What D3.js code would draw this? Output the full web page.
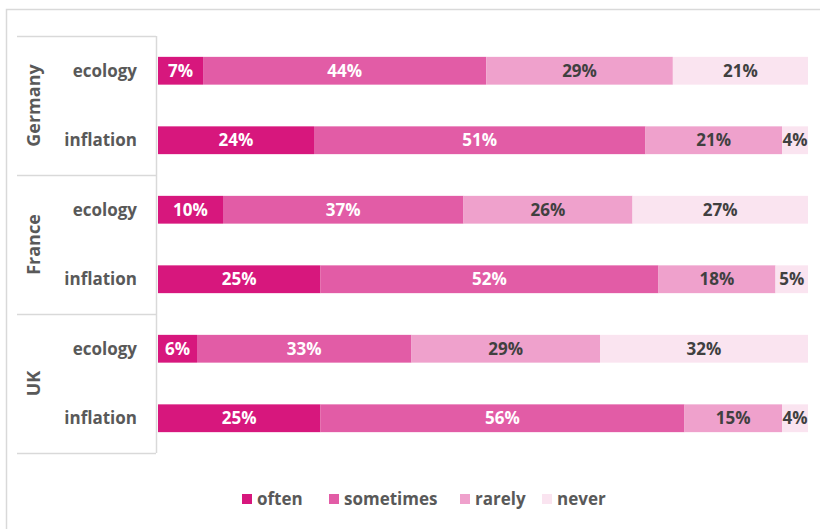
<!DOCTYPE html>
<html>
<head>
<meta charset="utf-8">
<script src="https://cdn.jsdelivr.net/npm/d3@7"></script>
<style>
  body { margin: 0; background: #fff; }
  svg { display: block; font-family: "Open Sans", "Liberation Sans", sans-serif; }
</style>
</head>
<body>
<div id="chart"></div>
<script>
// --- data ---
const countries = ["Germany", "France", "UK"];
const topics = ["ecology", "inflation"];
const answers = ["often", "sometimes", "rarely", "never"];
const answerColors = ["#D7177D", "#E25CA6", "#EFA1CC", "#FAE4F0"];
const labelColors = ["#ffffff", "#ffffff", "#404040", "#404040"];

// percentages per row (country / topic), in answer order
const germanyEcology = [7, 44, 29, 21];
const germanyInflation = [24, 51, 21, 4];
const franceEcology = [10, 37, 26, 27];
const franceInflation = [25, 52, 18, 5];
const ukEcology = [6, 33, 29, 32];
const ukInflation = [25, 56, 15, 4];

const rows = [
  { country: "Germany", topic: "ecology", values: germanyEcology },
  { country: "Germany", topic: "inflation", values: germanyInflation },
  { country: "France", topic: "ecology", values: franceEcology },
  { country: "France", topic: "inflation", values: franceInflation },
  { country: "UK", topic: "ecology", values: ukEcology },
  { country: "UK", topic: "inflation", values: ukInflation }
];

//--- layout ---
const width = 820;
const height = 529;
const plotLeft = 158;
const plotRight = 808;
const plotTop = 36;
const plotBottom = 453;

const svg = d3.select("#chart").append("svg")
  .attr("width", width)
  .attr("height", height);

// outer chart frame
svg.append("rect")
  .attr("x", 6.5).attr("y", 9.5)
  .attr("width", 830).attr("height", 540)
  .attr("fill", "none")
  .attr("stroke", "#d9d9d9")
  .attr("stroke-width", 1.5);

// scales
const x = d3.scaleLinear().domain([0, 1]).range([plotLeft, plotRight]);
const yCountry = d3.scaleBand().domain(countries).range([plotTop, plotBottom]);
const yTopic = d3.scaleBand().domain(topics).range([0, yCountry.bandwidth()]).paddingInner(0.6).paddingOuter(0.3);
const color = d3.scaleOrdinal().domain(answers).range(answerColors);

// stacked (normalised to 100%)
const stackData = rows.map((r) => {
  const total = d3.sum(r.values);
  let acc = 0;
  return r.values.map((v, i) => {
    const seg = { row: r, answer: answers[i], value: v, x0: acc / total, x1: (acc + v) / total };
    acc += v;
    return seg;
  });
});

// category axis lines (group separators)
const sepY = countries.map((c) => yCountry(c)).concat([plotBottom]);
svg.selectAll(".sep").data(sepY).enter().append("line")
  .attr("x1", 17).attr("x2", 156)
  .attr("y1", (d) => d + 0.5).attr("y2", (d) => d + 0.5)
  .attr("stroke", "#d9d9d9").attr("stroke-width", 1.5);

svg.append("line")
  .attr("x1", 156.5).attr("x2", 156.5)
  .attr("y1", plotTop).attr("y2", plotBottom)
  .attr("stroke", "#d9d9d9").attr("stroke-width", 1.5);

// country labels (rotated)
svg.selectAll(".country").data(countries).enter().append("text")
  .attr("transform", (d) => "translate(40," + (yCountry(d) + yCountry.bandwidth() / 2) + ") rotate(-90)")
  .attr("text-anchor", "middle")
  .attr("font-size", "18px")
  .attr("font-weight", "bold")
  .attr("fill", "#595959")
  .text((d) => d);

// topic labels
svg.selectAll(".topic").data(rows).enter().append("text")
  .attr("x", 137)
  .attr("y", (d) => yCountry(d.country) + yTopic(d.topic) + yTopic.bandwidth() / 2)
  .attr("dy", "0.35em")
  .attr("text-anchor", "end")
  .attr("font-size", "17px")
  .attr("font-weight", "bold")
  .attr("fill", "#595959")
  .text((d) => d.topic);

// bars
const rowG = svg.selectAll(".row").data(stackData).enter().append("g")
  .attr("transform", (d) => "translate(0," + (yCountry(d[0].row.country) + yTopic(d[0].row.topic)) + ")");

rowG.selectAll("rect").data((d) => d).enter().append("rect")
  .attr("x", (d) => x(d.x0))
  .attr("width", (d) => x(d.x1) - x(d.x0))
  .attr("y", 0)
  .attr("height", yTopic.bandwidth())
  .attr("fill", (d) => color(d.answer));

rowG.selectAll("text").data((d) => d).enter().append("text")
  .attr("x", (d) => (x(d.x0) + x(d.x1)) / 2)
  .attr("y", yTopic.bandwidth() / 2)
  .attr("dy", "0.36em")
  .attr("text-anchor", "middle")
  .attr("font-size", "17px")
  .attr("font-weight", "bold")
  .attr("fill", (d) => labelColors[answers.indexOf(d.answer)])
  .text((d) => d.value + "%");

// legend
const legendX = [242, 329, 460, 542];
const legend = svg.selectAll(".legend").data(answers).enter().append("g")
  .attr("transform", (d, i) => "translate(" + legendX[i] + ",499)");
legend.append("rect")
  .attr("x", 0).attr("y", -5)
  .attr("width", 10).attr("height", 10)
  .attr("fill", (d) => color(d));
legend.append("text")
  .attr("x", 15)
  .attr("dy", "0.35em")
  .attr("font-size", "17px")
  .attr("font-weight", "bold")
  .attr("fill", "#595959")
  .text((d) => d);
</script>
</body>
</html>
